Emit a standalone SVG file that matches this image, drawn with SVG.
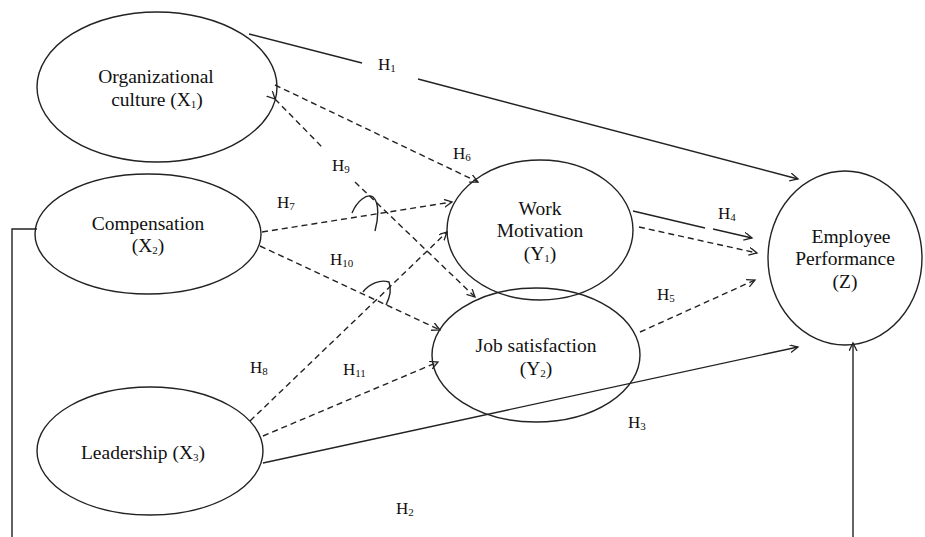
<svg xmlns="http://www.w3.org/2000/svg" width="925" height="537" viewBox="0 0 925 537">
<style>
.node ellipse{fill:none;stroke:#222;stroke-width:1.4}
.t{font-family:"Liberation Serif","Times New Roman",serif;font-size:19.5px;fill:#111;text-anchor:middle}
.h{font-family:"Liberation Serif","Times New Roman",serif;font-size:17px;fill:#111}
.s{font-size:11px}
.solid{fill:none;stroke:#222;stroke-width:1.4}
.dash{fill:none;stroke:#222;stroke-width:1.4;stroke-dasharray:6 4}
</style>
<defs>
<marker id="arr" markerWidth="10" markerHeight="10" refX="8" refY="4" orient="auto" markerUnits="userSpaceOnUse">
<path d="M0,0 L8,4 L0,8" fill="none" stroke="#222" stroke-width="1.3"/>
</marker>
</defs>
<rect width="925" height="537" fill="#fff"/>
<g id="connectors">
<line class="solid" x1="249" y1="34" x2="362" y2="63"/>
<line class="solid" x1="418" y1="79" x2="798" y2="179" marker-end="url(#arr)"/>
<line class="dash" x1="275" y1="85" x2="478" y2="182" marker-end="url(#arr)"/>
<line class="dash" x1="275" y1="99" x2="322" y2="147" marker-start="url(#arr)"/>
<line class="dash" x1="355" y1="182" x2="475" y2="297" marker-end="url(#arr)"/>
<line class="dash" x1="262" y1="232" x2="452" y2="202" marker-end="url(#arr)"/>
<path class="solid" d="M352,213 C357,201 367,193 373,197 C380,203 378,220 375,231"/>
<line class="dash" x1="260" y1="246" x2="440" y2="330" marker-end="url(#arr)"/>
<path class="solid" d="M363,292 C369,284 380,279 389,282 C392,290 389,299 386,305"/>
<line class="dash" x1="250" y1="421" x2="447" y2="232" marker-end="url(#arr)"/>
<line class="dash" x1="263" y1="436" x2="438" y2="362" marker-end="url(#arr)"/>
<line class="solid" x1="263" y1="463" x2="798" y2="347" marker-end="url(#arr)"/>
<line class="solid" x1="633" y1="211" x2="705" y2="228"/>
<line class="solid" x1="713" y1="229" x2="752" y2="238" marker-end="url(#arr)"/>
<line class="dash" x1="639" y1="227" x2="757" y2="253" marker-end="url(#arr)"/>
<line class="dash" x1="640" y1="332" x2="755" y2="280" marker-end="url(#arr)"/>
<polyline class="solid" points="37,229 12,229 12,537"/>
<line class="solid" x1="853" y1="537" x2="853" y2="343" marker-end="url(#arr)"/>
</g>
<g id="org" class="node">
<ellipse cx="157" cy="87" rx="120" ry="75"/>
<text class="t" x="156" y="83">Organizational</text>
<text class="t" x="157" y="106">culture (X<tspan class="s" dy="2">1</tspan><tspan dy="-2">)</tspan></text>
</g>
<g id="comp" class="node">
<ellipse cx="148" cy="234" rx="113" ry="60"/>
<text class="t" x="148" y="230">Compensation</text>
<text class="t" x="148" y="252">(X<tspan class="s" dy="2">2</tspan><tspan dy="-2">)</tspan></text>
</g>
<g id="lead" class="node">
<ellipse cx="150" cy="451" rx="113" ry="64"/>
<text class="t" x="143" y="459">Leadership (X<tspan class="s" dy="2">3</tspan><tspan dy="-2">)</tspan></text>
</g>
<g id="wm" class="node">
<ellipse cx="540" cy="230" rx="93" ry="70"/>
<text class="t" x="540" y="215">Work</text>
<text class="t" x="540" y="237">Motivation</text>
<text class="t" x="540" y="260">(Y<tspan class="s" dy="2">1</tspan><tspan dy="-2">)</tspan></text>
</g>
<g id="js" class="node">
<ellipse cx="536" cy="355" rx="104" ry="67"/>
<text class="t" x="536" y="352">Job satisfaction</text>
<text class="t" x="536" y="375">(Y<tspan class="s" dy="2">2</tspan><tspan dy="-2">)</tspan></text>
</g>
<g id="ep" class="node">
<ellipse cx="845" cy="258" rx="77" ry="87"/>
<text class="t" x="851" y="243">Employee</text>
<text class="t" x="845" y="265">Performance</text>
<text class="t" x="845" y="288">(Z)</text>
</g>
<g id="labels">
<text class="h" x="378" y="70">H<tspan class="s" dy="2">1</tspan></text>
<text class="h" x="453" y="159">H<tspan class="s" dy="2">6</tspan></text>
<text class="h" x="332" y="171">H<tspan class="s" dy="2">9</tspan></text>
<text class="h" x="277" y="208">H<tspan class="s" dy="2">7</tspan></text>
<text class="h" x="330" y="265">H<tspan class="s" dy="2">10</tspan></text>
<text class="h" x="250" y="373">H<tspan class="s" dy="2">8</tspan></text>
<text class="h" x="343" y="375">H<tspan class="s" dy="2">11</tspan></text>
<text class="h" x="396" y="514">H<tspan class="s" dy="2">2</tspan></text>
<text class="h" x="628" y="428">H<tspan class="s" dy="2">3</tspan></text>
<text class="h" x="718" y="219">H<tspan class="s" dy="2">4</tspan></text>
<text class="h" x="657" y="300">H<tspan class="s" dy="2">5</tspan></text>
</g>
</svg>
